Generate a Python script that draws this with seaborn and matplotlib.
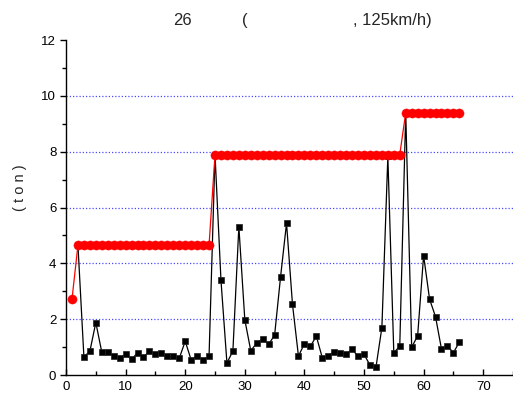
import matplotlib
matplotlib.use("Agg")
import matplotlib.pyplot as plt
from matplotlib.ticker import MultipleLocator
import pandas as pd
import seaborn as sns

sns.set_theme(style="white")
plt.rcParams["font.family"] = ["Liberation Sans", "DejaVu Sans"]

# Measured load per sample (ton)
load_x = list(range(2, 67))
load_y = [4.65, 0.65, 0.85, 1.88, 0.82, 0.81, 0.68, 0.60, 0.74, 0.56,
          0.80, 0.63, 0.87, 0.74, 0.80, 0.67, 0.67, 0.60, 1.21, 0.54,
          0.69, 0.54, 0.68, 7.90, 3.39, 0.43, 0.86, 5.32, 1.98, 0.87,
          1.15, 1.29, 1.10, 1.43, 3.52, 5.44, 2.53, 0.68, 1.12, 1.03,
          1.39, 0.62, 0.69, 0.84, 0.80, 0.74, 0.92, 0.67, 0.74, 0.36,
          0.27, 1.70, 7.83, 0.79, 1.04, 9.40, 0.99, 1.41, 4.28, 2.72,
          2.09, 0.93, 1.04, 0.80, 1.18]

# Running maximum level (ton)
max_x = list(range(1, 67))
max_y = [2.72] + [4.65] * 23 + [7.90] * 32 + [9.40] * 10

title_parts = ["26", "(", ", 125km/h)"]
ylabel_text = "( t o n )"
x_ticks = [0, 10, 20, 30, 40, 50, 60, 70]
y_ticks = [0, 2, 4, 6, 8, 10, 12]

load_df = pd.DataFrame({"x": load_x, "y": load_y})
max_df = pd.DataFrame({"x": max_x, "y": max_y})

fig = plt.figure(figsize=(5.13, 4.05), dpi=100)
ax = fig.add_axes([0.1287, 0.074, 0.8713, 0.827])

for yv in [2, 4, 6, 8, 10]:
    ax.axhline(yv, color="#4a4aff", linestyle=(0, (1, 1.6)), linewidth=0.9, zorder=1)

sns.lineplot(data=load_df, x="x", y="y", ax=ax, color="black", linewidth=0.9,
             marker="s", markersize=4.6, markeredgecolor="#202020",
             markeredgewidth=0.5, zorder=3)
sns.lineplot(data=max_df, x="x", y="y", ax=ax, color="red", linewidth=0.9,
             marker="o", markersize=6.6, markeredgecolor="red",
             markeredgewidth=0.3, zorder=4)

ax.set_xlim(0, 75)
ax.set_ylim(0, 12)
ax.set_xticks(x_ticks)
ax.set_yticks(y_ticks)
ax.xaxis.set_minor_locator(MultipleLocator(5))
ax.yaxis.set_minor_locator(MultipleLocator(1))
ax.tick_params(axis="x", which="both", direction="in", length=4, width=1,
               bottom=True, labelsize=9.5, colors="black", pad=4)
ax.tick_params(axis="y", which="both", direction="out", length=4, width=1,
               left=True, labelsize=9.5, colors="black", pad=3)
ax.tick_params(axis="both", which="minor", length=3)

for side in ["top", "right"]:
    ax.spines[side].set_visible(False)
for side in ["left", "bottom"]:
    ax.spines[side].set_color("black")
    ax.spines[side].set_linewidth(1.0)

ax.set_xlabel("")
ax.set_ylabel("")
ax.grid(False)

fig.text(20 / 513, 1 - 188 / 405, ylabel_text, fontsize=10.5, rotation=90,
         ha="center", va="center")

title_left = [173 / 513, 242 / 513, 353 / 513]
for txt, xl in zip(title_parts, title_left):
    fig.text(xl, 0.949, txt, fontsize=12, ha="left", va="center")

fig.savefig("out.png", dpi=100)
